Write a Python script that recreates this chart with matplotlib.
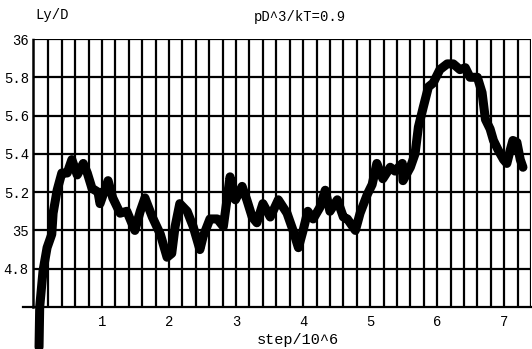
"""
Box length Ly/D versus MC step, pD^3/kT = 0.9 (old scanned plot style).
"""

import matplotlib
matplotlib.use("Agg")
import matplotlib.pyplot as plt
import numpy as np

# ── data (step in units of 10^6, Ly/D) ────────────────────────────────────────
STEP = [0.06, 0.07, 0.12, 0.18, 0.25, 0.27, 0.33, 0.40, 0.48, 0.55, 0.63, 0.72,
        0.78, 0.85, 0.94, 0.97, 1.09, 1.16, 1.27, 1.37, 1.49, 1.57, 1.64, 1.75,
        1.87, 1.97, 2.04, 2.09, 2.16, 2.27, 2.36, 2.46, 2.51, 2.61, 2.72, 2.81,
        2.91, 2.99, 3.09, 3.16, 3.24, 3.31, 3.40, 3.51, 3.63, 3.76, 3.85, 3.93,
        4.00, 4.07, 4.15, 4.25, 4.33, 4.40, 4.51, 4.60, 4.66, 4.78, 4.85, 4.96,
        5.03, 5.10, 5.19, 5.30, 5.37, 5.48, 5.49, 5.60, 5.67, 5.72, 5.79, 5.87,
        5.94, 6.04, 6.15, 6.24, 6.34, 6.42, 6.49, 6.60, 6.67, 6.72, 6.79, 6.84,
        6.91, 6.99, 7.04, 7.09, 7.13, 7.19, 7.24, 7.28]
LY = [4.39, 4.60, 4.79, 4.91, 4.98, 5.09, 5.21, 5.30, 5.30, 5.37, 5.29, 5.35,
      5.30, 5.22, 5.20, 5.14, 5.26, 5.17, 5.09, 5.10, 5.00, 5.10, 5.17, 5.07,
      4.98, 4.86, 4.88, 5.02, 5.14, 5.10, 5.02, 4.90, 4.97, 5.06, 5.06, 5.02,
      5.28, 5.16, 5.23, 5.16, 5.07, 5.04, 5.14, 5.07, 5.16, 5.09, 5.00, 4.91,
      5.00, 5.10, 5.06, 5.12, 5.21, 5.10, 5.16, 5.07, 5.06, 5.00, 5.09, 5.19,
      5.24, 5.35, 5.27, 5.33, 5.31, 5.35, 5.26, 5.33, 5.40, 5.54, 5.64, 5.75,
      5.77, 5.84, 5.87, 5.87, 5.84, 5.85, 5.80, 5.80, 5.72, 5.58, 5.53, 5.47,
      5.42, 5.37, 5.35, 5.42, 5.47, 5.46, 5.37, 5.33]

X_TICKS = [1, 2, 3, 4, 5, 6, 7]
Y_TICKS = [4.8, 5.0, 5.2, 5.4, 5.6, 5.8, 6.0]
Y_LABELS = ["4.8", "35", "5.2", "5.4", "5.6", "5.8", "36"]

FONT = "Liberation Mono"

fig = plt.figure(figsize=(5.32, 3.49), dpi=100)
ax = fig.add_axes([33 / 532, 42 / 349, 498 / 532, 268 / 349])
ax.set_xlim(-0.03, 7.4)
ax.set_ylim(4.6, 6.0)

# dense grid: vertical every 0.2, horizontal every 0.2
for gx in np.arange(0.2, 7.41, 0.2):
    ax.axvline(gx, color="black", linewidth=1.6, zorder=1)
for gy in np.arange(4.8, 6.01, 0.2):
    ax.axhline(gy, color="black", linewidth=1.6, zorder=1)

ax.plot(STEP, LY, color="black", linewidth=6.5, solid_joinstyle="round",
        solid_capstyle="round", clip_on=False, zorder=3)

for side in ["top", "right"]:
    ax.spines[side].set_visible(False)
ax.spines["left"].set_linewidth(1.8)
ax.spines["left"].set_linestyle((0, (3, 1)))
ax.spines["bottom"].set_linewidth(1.6)

# bottom axis line sticks out to the left
ax.plot([-0.18, -0.03], [4.6, 4.6], color="black", linewidth=1.6,
        clip_on=False, zorder=2)

ax.set_xticks(X_TICKS)
ax.set_xticklabels([str(t) for t in X_TICKS], fontfamily=FONT, fontsize=10)
ax.set_yticks(Y_TICKS)
ax.set_yticklabels(Y_LABELS, fontfamily=FONT, fontsize=10)
ax.tick_params(axis="x", length=0, pad=6)
ax.tick_params(axis="y", length=0, pad=3)

fig.text(52 / 532, 1 - 15 / 349, "Ly/D", fontfamily=FONT, fontsize=10,
         ha="center", va="center")
fig.text(300 / 532, 1 - 17 / 349, "pD^3/kT=0.9", fontfamily=FONT, fontsize=10,
         ha="center", va="center")
fig.text(298 / 532, 1 - 340 / 349, "step/10^6", fontfamily=FONT, fontsize=11,
         ha="center", va="center")

fig.savefig("out.png", dpi=100)
